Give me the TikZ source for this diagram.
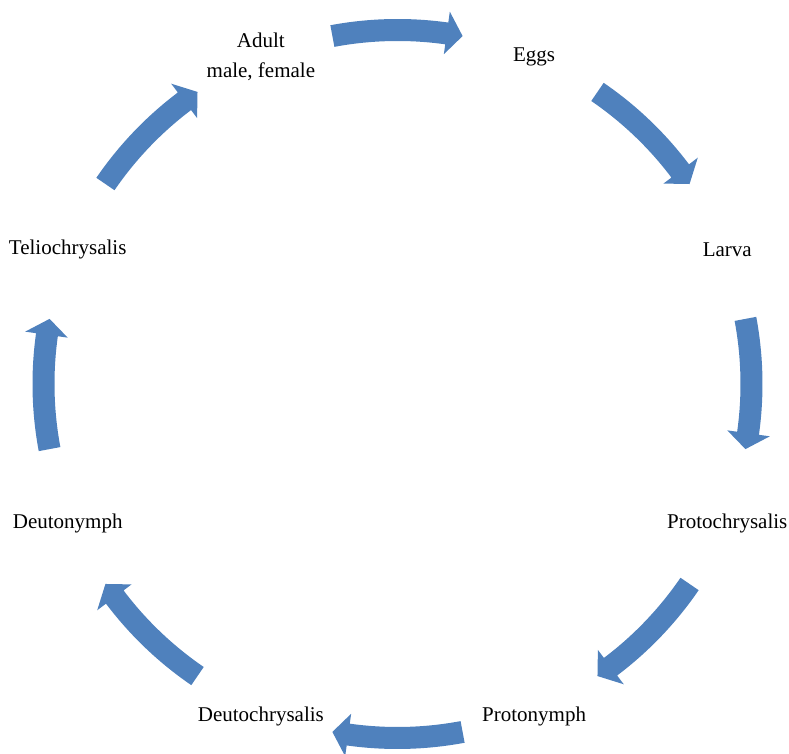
\documentclass[tikz,border=0pt]{standalone}
\usepackage{fontspec}
\setmainfont{Liberation Serif}
\usepackage{tikz}
\usetikzlibrary{positioning, calc}

\definecolor{cycleblue}{RGB}{79,129,189}

\tikzset{
  stage/.style={font=\fontsize{10.5}{15}\selectfont, align=center, inner sep=0pt, yshift=-1.25pt},
  cyclearrow/.style={fill=cycleblue, draw=none}
}

\begin{document}
\begin{tikzpicture}
  \useasboundingbox (-198.75pt,-185pt) rectangle (195.75pt,192pt);

  % Stages around the circle
  \node[stage] (adult)  at (112.5:178.5pt) {Adult\\male, female};
  \node[stage] (eggs)   at (67.5:178.5pt)  {Eggs};
  \node[stage] (larva)  at (22.5:178.5pt)  {Larva};
  \node[stage] (proto)  at (-22.5:178.5pt) {Protochrysalis};
  \node[stage] (pnymph) at (-67.5:178.5pt) {Protonymph};
  \node[stage] (deuto)  at (-112.5:178.5pt) {Deutochrysalis};
  \node[stage] (dnymph) at (-157.5:178.5pt) {Deutonymph};
  \node[stage] (telio)  at (157.5:178.5pt) {Teliochrysalis};

  % Curved block arrows between the stages
  \foreach \a in {90,45,0,-45,-90,-135,-180,-225} {
    \fill[cyclearrow] ({\a+10.6}:182.5pt)
      arc[start angle={\a+10.6}, end angle={\a-8}, radius=182.5pt]
      -- ({\a-8}:188pt) -- ({\a-10.6}:177pt) -- ({\a-8}:166.5pt)
      -- ({\a-8}:171.5pt)
      arc[start angle={\a-8}, end angle={\a+10.6}, radius=171.5pt]
      -- cycle;
  }
\end{tikzpicture}
\end{document}
